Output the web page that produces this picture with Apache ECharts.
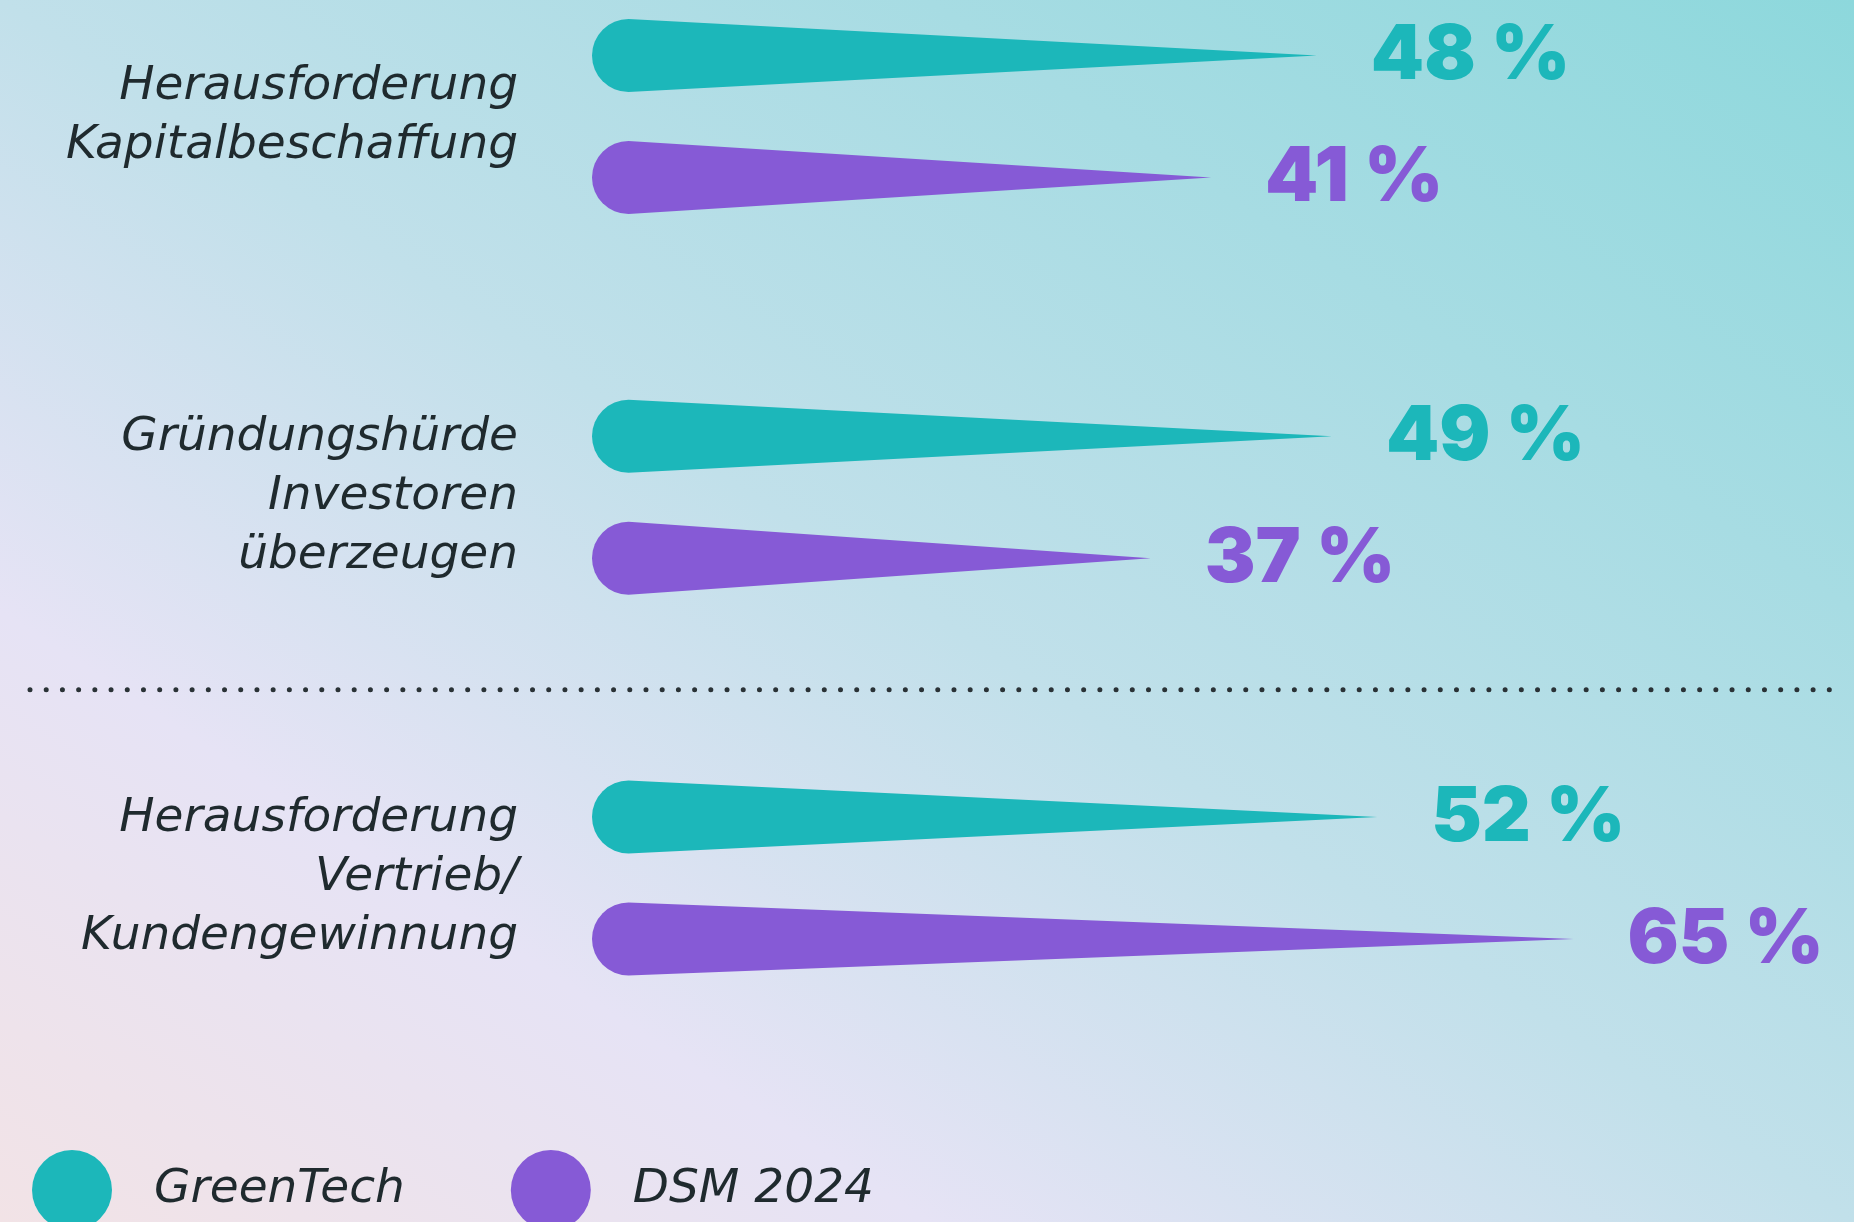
<!DOCTYPE html>
<html>
<head>
<meta charset="utf-8">
<style>
  html, body { margin: 0; padding: 0; }
  #main { width: 1854px; height: 1222px; }
</style>
<script src="https://cdn.jsdelivr.net/npm/echarts@6/dist/echarts.min.js"></script>
</head>
<body>
<div id="main"></div>
<script>
const categories = [
  'Herausforderung\nKapitalbeschaffung',
  'Gründungshürde\nInvestoren\nüberzeugen',
  'Herausforderung\nVertrieb/\nKundengewinnung'
];
const greenTech = [48, 49, 52];
const dsm2024 = [41, 37, 65];

const TEAL = '#1cb7ba';
const PURPLE = '#865ad6';
const INK = '#1f2a2e';
const LABEL_FONT = 'DejaVu Sans';

// cone: half-circle cap on the left, tapering to a point at the value
function coneRenderer(offset, color) {
  return function (params, api) {
    const v = api.value(0);
    const cat = api.value(1);
    const base = api.coord([0, cat]);
    const tip = api.coord([v, cat]);
    const r = 36.5;
    const cy = base[1] + offset;
    const x0 = base[0];
    return {
      type: 'group',
      children: [
        {
          type: 'path',
          shape: {
            pathData: 'M' + (x0 + r) + ' ' + (cy - r) +
              ' A' + r + ' ' + r + ' 0 0 0 ' + (x0 + r) + ' ' + (cy + r) +
              ' L' + tip[0] + ' ' + cy + ' Z'
          },
          style: { fill: color }
        },
        {
          type: 'text',
          x: tip[0] + 54,
          y: cy + 1,
          style: {
            text: v + ' %',
            fill: color,
            font: '900 76px Inter',
            verticalAlign: 'middle',
            align: 'left'
          }
        }
      ]
    };
  };
}

const chart = echarts.init(document.getElementById('main'));

chart.setOption({
  backgroundColor: {
    type: 'linear', global: true,
    x: 366, y: 1463, x2: 1488, y2: -241,
    colorStops: [
      { offset: 0, color: '#f2e3e6' },
      { offset: 0.25, color: '#e6e3f5' },
      { offset: 0.5, color: '#c1e0ea' },
      { offset: 1, color: '#8dd8dc' }
    ]
  },
  animation: false,
  grid: { left: 592, width: 1208, top: 116.5, bottom: 344 },
  xAxis: { type: 'value', min: 0, max: 80, show: false },
  yAxis: {
    type: 'category',
    data: categories,
    inverse: true,
    boundaryGap: false,
    axisLine: { show: false },
    axisTick: { show: false },
    splitLine: { show: false },
    axisLabel: {
      margin: 74,
      align: 'right',
      fontFamily: LABEL_FONT,
      fontStyle: 'italic',
      fontSize: 47,
      lineHeight: 59,
      padding: [10, 0, 0, 0],
      color: INK
    }
  },
  legend: {
    left: 32,
    top: 1150,
    padding: 0,
    icon: 'circle',
    itemWidth: 80,
    itemHeight: 80,
    itemGap: 106,
    textStyle: {
      fontFamily: LABEL_FONT,
      fontStyle: 'italic',
      fontSize: 47,
      color: INK,
      width: 260,
      padding: [3, 0, 0, 37]
    },
    data: ['GreenTech', 'DSM 2024']
  },
  series: [
    {
      name: 'GreenTech',
      type: 'custom',
      itemStyle: { color: TEAL },
      encode: { x: 0, y: 1 },
      data: greenTech.map((v, i) => [v, i]),
      renderItem: coneRenderer(-61, TEAL)
    },
    {
      name: 'DSM 2024',
      type: 'custom',
      itemStyle: { color: PURPLE },
      encode: { x: 0, y: 1 },
      data: dsm2024.map((v, i) => [v, i]),
      renderItem: coneRenderer(61, PURPLE)
    }
  ]
});

// dotted separator between the second and third group
const ySep = (chart.convertToPixel({ yAxisIndex: 0 }, 1) + chart.convertToPixel({ yAxisIndex: 0 }, 2)) / 2;
chart.setOption({
  graphic: [{
    type: 'line',
    shape: { x1: 30, y1: ySep + 2, x2: 1842, y2: ySep + 2 },
    style: { stroke: '#2a3236', lineWidth: 5, lineDash: [0.01, 16.2], lineCap: 'round' },
    silent: true
  }]
});
</script>
</body>
</html>
